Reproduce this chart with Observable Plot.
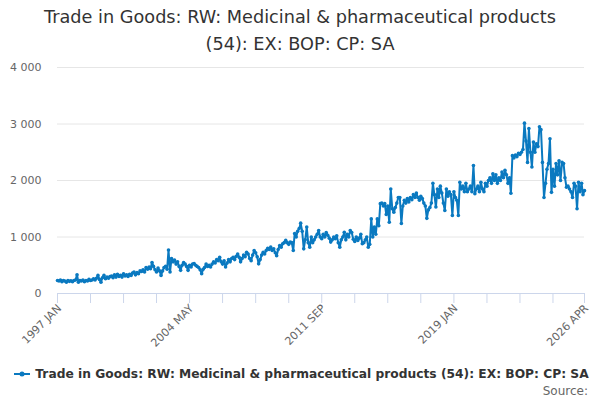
<!DOCTYPE html>
<html>
<head>
<meta charset="utf-8">
<script src="https://cdn.jsdelivr.net/npm/d3@7"></script>
<script src="https://cdn.jsdelivr.net/npm/@observablehq/plot@0.6"></script>
<style>
  html, body { margin: 0; padding: 0; background: #fff; }
  body { width: 600px; height: 400px; overflow: hidden; font-family: "DejaVu Sans", sans-serif; }
  #title { text-align: center; font-size: 17.7px; line-height: 27px; color: #333; padding-top: 4px; height: 55px; }
  #chart { height: 305px; }
  #legend { height: 18px; display: flex; align-items: center; justify-content: center; font-size: 12.25px; font-weight: bold; color: #333; margin-top: 1px; padding-left: 2px; }
  #legend svg { margin-right: 4px; }
  #source { text-align: right; font-size: 12px; color: #666; padding-right: 12px; line-height: 16px; }
</style>
</head>
<body>
<div id="title">Trade in Goods: RW: Medicinal &amp; pharmaceutical products<br>(54): EX: BOP: CP: SA</div>
<div id="chart"></div>
<div id="legend"></div>
<div id="source">Source:</div>
<script>
const seriesName = "Trade in Goods: RW: Medicinal & pharmaceutical products (54): EX: BOP: CP: SA";
const startYear = 1997;
const startMonth = 0; // January
// Monthly values, £ million, 1997 JAN – 2026 APR (12 per row)
const values = [
  230, 220, 240, 210, 230, 220, 200, 230, 215, 225, 210, 230,
  240, 330, 200, 230, 220, 240, 210, 230, 220, 250, 230, 240,
  260, 240, 270, 320, 250, 200, 280, 320, 260, 290, 270, 300,
  310, 280, 330, 290, 340, 300, 320, 290, 350, 310, 330, 300,
  340, 320, 360, 380, 330, 370, 350, 400, 390, 420, 380, 460,
  430, 470, 440, 550, 480, 420, 380, 450, 400, 320, 400, 460,
  480, 430, 770, 380, 620, 560, 590, 520, 560, 480, 410, 500,
  550, 520, 480, 410, 500, 470, 520, 530, 500, 480, 460, 420,
  350, 430, 460, 520, 480, 500, 470, 520, 560, 540, 600, 580,
  640, 560, 520, 580, 470, 540, 600, 560, 620, 640, 600, 660,
  700, 640, 560, 620, 680, 650, 730, 700, 620, 580, 680, 760,
  720, 650, 525, 600, 680, 730, 700, 760, 800, 780, 820, 760,
  790, 720, 670, 780, 850, 820, 880, 900, 940, 900, 870, 910,
  900, 760, 1060, 1000, 1100, 1150, 1245, 1100, 790, 950, 1175, 900,
  820, 1000, 900, 950, 1000, 1050, 1115, 1000, 970, 1050, 1000, 1080,
  1030, 980, 910, 950, 1000, 970, 1020, 900, 820, 950, 1000, 1085,
  950, 1050, 1000, 1115, 1080, 960, 920, 1000, 940, 980, 1050, 880,
  900, 950, 1000, 820, 870, 1320, 1000, 1175, 1050, 1320, 1200, 1590,
  1600, 1550, 1590, 1400, 1550, 1260, 1850, 1500, 1440, 1520, 1600, 1700,
  1700, 1240, 1550, 1650, 1600, 1680, 1620, 1700, 1660, 1750, 1700, 1780,
  1700, 1650, 1720, 1680, 1600, 1550, 1330, 1480, 1520, 1600, 1950, 1750,
  1530, 1850, 1700, 1900, 1780, 1600, 1470, 1850, 1720, 1800, 1750, 1380,
  1800, 1700, 1650, 1380, 1970, 1850, 1900, 1800, 1950, 1800, 1850, 1900,
  1800, 2265, 1765, 1850, 1900, 1800, 1970, 1850, 1800, 1950, 1900, 2000,
  2050, 1950, 2120, 2000, 2100, 1950, 2050, 2000, 2150, 2050, 2180, 2100,
  1950, 2050, 1775, 2440, 2400, 2450, 2420, 2480, 2460, 2500, 2550, 3015,
  2700, 2320, 2920, 2500, 2240, 2680, 2500, 2650, 2600, 2950, 2900, 2320,
  1700, 1950, 2200, 2300, 2740, 1790, 2200, 1900, 2300, 2100, 2350, 2000,
  2320, 2300, 2050, 1880, 1900, 1850, 1800, 1700, 1950, 1900, 1500, 1970,
  1800, 1950, 1750, 1820
];
const yTicks = [0, 1000, 2000, 3000, 4000];
const xTickLabels = ["1997 JAN", "2004 MAY", "2011 SEP", "2019 JAN", "2026 APR"];
const xTickLabelIndex = [0, 88, 176, 264, 351];
const xTickIndex = [0, 22, 44, 66, 88, 110, 132, 154, 176, 198, 220, 242, 264, 286, 308, 330, 351];

const color = "#0a79c0";
const monthDate = i => new Date(Date.UTC(startYear, startMonth + i, 1));
const data = values.map((v, i) => ({date: monthDate(i), value: v}));
const labelMap = new Map(xTickLabelIndex.map((idx, k) => [+monthDate(idx), xTickLabels[k]]));
const fmt = d => d3.format(",")(d).replace(/,/g, " ");

const chart = Plot.plot({
  width: 600,
  height: 305,
  marginLeft: 57,
  marginRight: 16,
  marginTop: 8,
  marginBottom: 71,
  style: {fontFamily: "DejaVu Sans, sans-serif", fontSize: "11px", color: "#666", background: "#fff"},
  x: {type: "utc", domain: [monthDate(0), monthDate(values.length - 1)]},
  y: {domain: [0, 4000]},
  marks: [
    Plot.ruleY(yTicks.filter(d => d > 0), {stroke: "#e6e6e6", strokeWidth: 1}),
    Plot.axisY({ticks: yTicks, tickSize: 0, tickPadding: 16, tickFormat: fmt, label: null, fill: "#666", fontSize: 11}),
    Plot.axisX({ticks: xTickIndex.map(monthDate), tickSize: 10, stroke: "#ccd6eb", tickFormat: () => "", label: null}),
    Plot.axisX({ticks: xTickLabelIndex.map(monthDate), tickSize: 0, tickPadding: 13, dx: 2, tickRotate: -45, tickFormat: d => labelMap.get(+d), label: null, fill: "#666", fontSize: 11}),
    Plot.ruleY([0], {stroke: "#ccd6eb", strokeWidth: 1}),
    Plot.line(data, {x: "date", y: "value", stroke: color, strokeWidth: 2}),
    Plot.dot(data, {x: "date", y: "value", r: 1.8, fill: color, stroke: "none"})
  ]
});
document.getElementById("chart").appendChild(chart);

const legend = document.getElementById("legend");
legend.innerHTML = `<svg width="18" height="12"><line x1="1" y1="6" x2="17" y2="6" stroke="${color}" stroke-width="2"></line><circle cx="9" cy="6" r="2.5" fill="${color}"></circle></svg><span></span>`;
legend.querySelector("span").textContent = seriesName;
</script>
</body>
</html>
